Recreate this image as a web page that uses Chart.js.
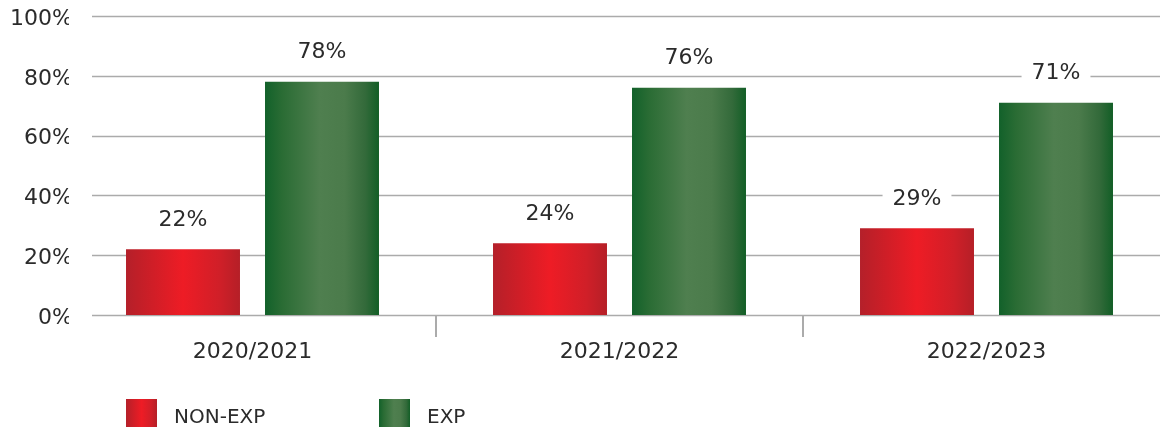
<!DOCTYPE html>
<html>
<head>
<meta charset="utf-8">
<script src="https://cdn.jsdelivr.net/npm/chart.js@4"></script>
<style>
html, body { margin: 0; padding: 0; background: #fff; overflow: hidden; }
#wrap { width: 1170px; height: 427px; position: relative; }
</style>
</head>
<body>
<div id="wrap"><canvas id="expChart"></canvas></div>
<script>
const seasons = ['2020/2021', '2021/2022', '2022/2023'];
const seriesNames = ['NON-EXP', 'EXP'];
const nonExp = [22, 24, 29];
const exp = [78, 76, 71];
const yTicks = [0, 20, 40, 60, 80, 100];

const textColor = '#2b2b2b';
const gridColor = '#ababab';
const fontFamily = '"DejaVu Sans", sans-serif';

// metallic look: dark edges, bright middle
const redStops = [[0, '#b4202a'], [0.1, '#c01f28'], [0.5, '#ee1c25'], [0.82, '#d01f28'], [1, '#b51f27']];
const greenStops = [[0, '#12612a'], [0.15, '#2a6c34'], [0.48, '#4f7f4f'], [0.7, '#4b7b4b'], [0.88, '#336a3a'], [1, '#125e26']];

function hGradient(ctx, x0, x1, stops) {
  const g = ctx.createLinearGradient(x0, 0, x1, 0);
  stops.forEach(([o, c]) => g.addColorStop(o, c));
  return g;
}

function barFill(stops) {
  return (context) => {
    const el = context.element;
    if (!el || !isFinite(el.x) || !isFinite(el.width)) return stops[2][1];
    return hGradient(context.chart.ctx, el.x - el.width / 2, el.x + el.width / 2, stops);
  };
}

// gridlines start a little right of the axis labels, dividers between seasons
const frame = {
  id: 'frame',
  beforeDatasetsDraw(chart) {
    const { ctx, chartArea, scales: { x, y } } = chart;
    const gridStart = 92;
    ctx.save();
    ctx.strokeStyle = gridColor;
    ctx.lineWidth = 1.5;
    yTicks.forEach(v => {
      const py = Math.round(y.getPixelForValue(v)) + 0.5;
      ctx.beginPath();
      ctx.moveTo(gridStart, py);
      ctx.lineTo(chartArea.right, py);
      ctx.stroke();
    });
    ctx.lineWidth = 2;
    for (let i = 1; i < seasons.length; i++) {
      const px = Math.round((x.getPixelForValue(i - 1) + x.getPixelForValue(i)) / 2);
      ctx.beginPath();
      ctx.moveTo(px, chartArea.bottom);
      ctx.lineTo(px, chartArea.bottom + 22);
      ctx.stroke();
    }
    ctx.restore();
  }
};

// percentage above each bar on a white patch
const valueLabels = {
  id: 'valueLabels',
  afterDatasetsDraw(chart) {
    const ctx = chart.ctx;
    ctx.save();
    ctx.font = '22px ' + fontFamily;
    ctx.textAlign = 'center';
    ctx.textBaseline = 'middle';
    chart.data.datasets.forEach((ds, di) => {
      chart.getDatasetMeta(di).data.forEach((bar, i) => {
        const txt = ds.data[i] + '%';
        const w = ctx.measureText(txt).width + 20;
        const cy = bar.y - 30;
        ctx.fillStyle = '#fff';
        ctx.fillRect(bar.x - w / 2, cy - 14, w, 28);
        ctx.fillStyle = textColor;
        ctx.fillText(txt, bar.x, cy + 1);
      });
    });
    ctx.restore();
  }
};

const bottomLegend = {
  id: 'bottomLegend',
  afterDraw(chart) {
    const ctx = chart.ctx;
    const startX = 126, step = 253, boxW = 31, boxH = 28, top = 399;
    ctx.save();
    ctx.font = '20px ' + fontFamily;
    ctx.textBaseline = 'middle';
    [redStops, greenStops].forEach((stops, i) => {
      const bx = startX + i * step;
      ctx.fillStyle = hGradient(ctx, bx, bx + boxW, stops);
      ctx.fillRect(bx, top, boxW, boxH);
      ctx.fillStyle = textColor;
      ctx.fillText(chart.data.datasets[i].label, bx + 48, top + 19);
    });
    ctx.restore();
  }
};

const chart = new Chart(document.getElementById('expChart'), {
  type: 'bar',
  data: {
    labels: seasons,
    datasets: [
      { label: seriesNames[0], data: nonExp, backgroundColor: barFill(redStops), borderWidth: 0 },
      { label: seriesNames[1], data: exp, backgroundColor: barFill(greenStops), borderWidth: 0 }
    ]
  },
  options: {
    responsive: true,
    maintainAspectRatio: false,
    animation: false,
    categoryPercentage: 0.7575,
    barPercentage: 0.82,
    layout: { padding: { top: 16, bottom: 62, left: 0, right: 0 } },
    plugins: { legend: { display: false }, tooltip: { enabled: false } },
    scales: {
      x: {
        grid: { display: false, drawTicks: false },
        border: { display: false },
        ticks: { color: textColor, font: { family: fontFamily, size: 22 }, padding: 24 },
        afterFit: s => { s.height = 50; }
      },
      y: {
        min: 0,
        max: 100,
        afterBuildTicks: s => { s.ticks = yTicks.map(v => ({ value: v })); },
        grid: { display: false, drawTicks: false },
        border: { display: false },
        ticks: {
          color: textColor,
          font: { family: fontFamily, size: 22 },
          padding: -4,
          labelOffset: 3,
          callback: v => v + '%'
        },
        afterFit: s => { s.width = 69; }
      }
    }
  },
  plugins: [frame, valueLabels, bottomLegend]
});
chart.update();
</script>
</body>
</html>
